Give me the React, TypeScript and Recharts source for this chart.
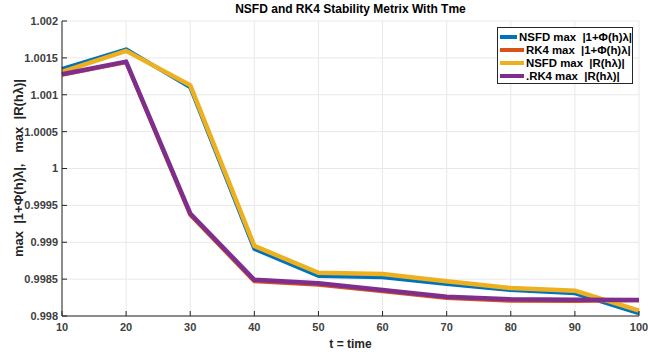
import React from 'react';
import { LineChart, Line, XAxis, YAxis, CartesianGrid } from 'recharts';

const times = [10, 20, 30, 40, 50, 60, 70, 80, 90, 100];
const nsfdPhi = [1.00135, 1.001616, 1.0011, 0.99891, 0.998542, 0.998524, 0.998434, 0.998353, 0.998308, 0.998037];
const rk4Phi = [1.00127, 1.00144, 0.99937, 0.99847, 0.998425, 0.998335, 0.998244, 0.998208, 0.998205, 0.998215];
const nsfdR = [1.00131, 1.001595, 1.00113, 0.99895, 0.998587, 0.99857, 0.99847, 0.99838, 0.998344, 0.998072];
const rk4R = [1.001277, 1.001449, 0.99939, 0.99849, 0.998443, 0.998353, 0.998262, 0.998226, 0.998222, 0.998217];

const yTicks = [0.998, 0.9985, 0.999, 0.9995, 1, 1.0005, 1.001, 1.0015, 1.002];
const yTickLabels = ['0.998', '0.9985', '0.999', '0.9995', '1', '1.0005', '1.001', '1.0015', '1.002'];
const xTicks = [10, 20, 30, 40, 50, 60, 70, 80, 90, 100];

const seriesNames = ['NSFD max  |1+Φ(h)λ|', 'RK4 max  |1+Φ(h)λ|', 'NSFD max  |R(hλ)|', '.RK4 max  |R(hλ)|'];
const seriesColors = ['#0072BD', '#D95319', '#EDB120', '#7E2F8E'];

const data = times.map((t, i) => ({ t, a: nsfdPhi[i], b: rk4Phi[i], c: nsfdR[i], d: rk4R[i] }));

const axisColor = '#262626';
const tickStyle = { fill: '#404040', fontSize: 11, fontWeight: 700, fontFamily: 'Liberation Sans, Arial, sans-serif' };
const fmtY = (v: number) => {
  const i = yTicks.findIndex((t) => Math.abs(t - v) < 1e-9);
  return i >= 0 ? yTickLabels[i] : String(v);
};

export default function App() {
  const font = 'Liberation Sans, Arial, sans-serif';
  return (
    <div style={{ position: 'absolute', left: 0, top: 0, width: 648, height: 356, background: '#fff', fontFamily: font }}>
      <LineChart width={648} height={356} data={data} margin={{ top: 21, right: 9, bottom: 0, left: 0 }}>
        <CartesianGrid stroke="#e8e8e8" strokeWidth={1} />
        <XAxis
          dataKey="t"
          type="number"
          domain={[10, 100]}
          ticks={xTicks}
          height={40}
          stroke={axisColor}
          tickSize={-5}
          tickMargin={12}
          tick={tickStyle}
          interval={0}
        />
        <XAxis
          xAxisId="top"
          orientation="top"
          dataKey="t"
          type="number"
          domain={[10, 100]}
          ticks={xTicks}
          height={0}
          stroke={axisColor}
          tickSize={-5}
          tickFormatter={() => ''}
          interval={0}
        />
        <YAxis
          type="number"
          domain={[0.998, 1.002]}
          ticks={yTicks}
          width={62}
          stroke={axisColor}
          tickSize={-5}
          tickMargin={9}
          tick={tickStyle}
          tickFormatter={fmtY}
          interval={0}
          allowDataOverflow
        />
        <YAxis
          yAxisId="right"
          orientation="right"
          type="number"
          domain={[0.998, 1.002]}
          ticks={yTicks}
          width={0}
          stroke={axisColor}
          tickSize={-5}
          tickFormatter={() => ''}
          interval={0}
          allowDataOverflow
        />
        <Line dataKey="a" stroke={seriesColors[0]} strokeWidth={4} dot={false} isAnimationActive={false} strokeLinejoin="round" />
        <Line dataKey="b" stroke={seriesColors[1]} strokeWidth={4} dot={false} isAnimationActive={false} strokeLinejoin="round" />
        <Line dataKey="c" stroke={seriesColors[2]} strokeWidth={4.5} dot={false} isAnimationActive={false} strokeLinejoin="round" />
        <Line dataKey="d" stroke={seriesColors[3]} strokeWidth={4.5} dot={false} isAnimationActive={false} strokeLinejoin="round" />
      </LineChart>

      <div style={{ position: 'absolute', left: 62, width: 577, top: 2, textAlign: 'center', fontSize: 12, fontWeight: 700, color: '#000' }}>
        NSFD and RK4 Stability Metrix With Tme
      </div>

      <div style={{ position: 'absolute', left: 62, width: 577, top: 337, textAlign: 'center', fontSize: 12, fontWeight: 700, color: '#262626' }}>
        t = time
      </div>

      <div
        style={{
          position: 'absolute',
          left: 18,
          top: 168,
          transform: 'translate(-50%, -50%) rotate(-90deg)',
          whiteSpace: 'pre',
          fontSize: 13,
          fontWeight: 700,
          color: '#262626',
        }}
      >
        {'max  |1+Φ(h)λ|,   max  |R(hλ)|'}
      </div>

      <div
        style={{
          position: 'absolute',
          left: 497,
          top: 27,
          width: 136,
          height: 57,
          boxSizing: 'border-box',
          border: '1px solid #262626',
          background: '#fff',
          paddingTop: 2,
        }}
      >
        {seriesNames.map((n, i) => (
          <div key={n} style={{ display: 'flex', alignItems: 'center', height: 13.2 }}>
            <div style={{ width: 24, height: 4, background: seriesColors[i], marginLeft: 2, marginRight: 2 }} />
            <span style={{ fontSize: 11.4, fontWeight: 700, color: '#000', whiteSpace: 'pre' }}>{n}</span>
          </div>
        ))}
      </div>
    </div>
  );
}
